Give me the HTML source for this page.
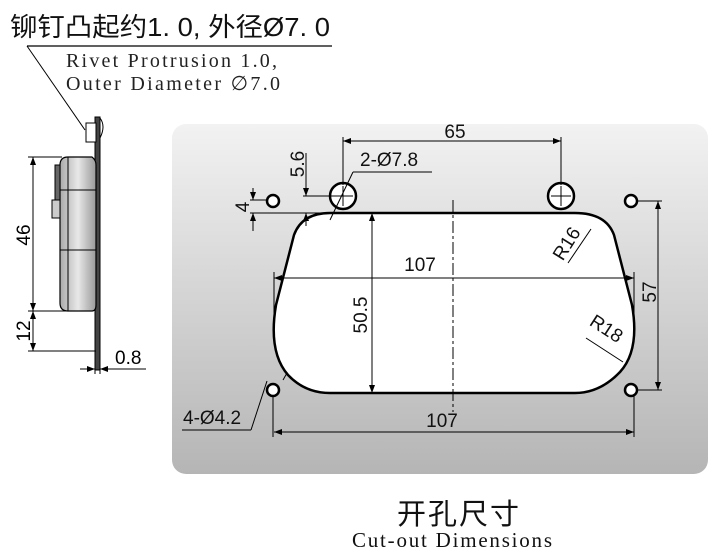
<!DOCTYPE html>
<html><head><meta charset="utf-8"><style>
html,body{margin:0;padding:0;background:#fff;width:718px;height:553px;overflow:hidden}
svg{display:block}
.s{font-family:"Liberation Sans","Noto Sans CJK SC",sans-serif}
.r{font-family:"Liberation Serif",serif}
</style></head><body>
<svg width="718" height="553" viewBox="0 0 718 553" xmlns="http://www.w3.org/2000/svg">
<defs>
<linearGradient id="g" x1="0" y1="0" x2="0" y2="1">
<stop offset="0" stop-color="#f2f2f2"/><stop offset="1" stop-color="#b5b5b5"/></linearGradient>
<linearGradient id="b" x1="0" y1="0" x2="1" y2="0">
<stop offset="0" stop-color="#aaa"/><stop offset="0.5" stop-color="#e8e8e8"/><stop offset="1" stop-color="#999"/></linearGradient>
<marker id="a" markerWidth="8" markerHeight="6" refX="8" refY="3" orient="auto-start-reverse" markerUnits="userSpaceOnUse"><path d="M0,0 L8,3 L0,6z" fill="#000"/></marker>
</defs>
<!-- header -->
<text x="10" y="36" class="s" font-size="26" fill="#111" textLength="320" lengthAdjust="spacingAndGlyphs">铆钉凸起约1. 0, 外径Ø7. 0</text>
<line x1="27" y1="46" x2="332" y2="46" stroke="#000" stroke-width="1.2"/>
<line x1="27" y1="46" x2="85" y2="130" stroke="#000" stroke-width="1"/>
<text x="66" y="67" class="r" font-size="20" fill="#222" textLength="211">Rivet Protrusion 1.0,</text>
<text x="66" y="90" class="r" font-size="20" fill="#222" textLength="214">Outer Diameter ∅7.0</text>
<!-- side view -->
<rect x="95" y="117" width="5" height="253" fill="#444" stroke="#000"/>
<rect x="86" y="123" width="10" height="19" fill="#fff" stroke="#000"/>
<path d="M100,118 q6,8 0,20" fill="none" stroke="#000"/>
<path d="M68,157 L92,157 Q96,160 96,165 L96,305 Q96,311 92,311 L68,311 Q60,311 60,303 L60,165 Q60,157 68,157z" fill="url(#b)" stroke="#000" stroke-width="1.2"/>
<line x1="68" y1="157" x2="68" y2="311" stroke="#000"/>
<line x1="60" y1="190" x2="96" y2="190" stroke="#000"/>
<line x1="60" y1="250" x2="96" y2="250" stroke="#000"/>
<rect x="55" y="165" width="5" height="50" fill="#666" stroke="#000"/>
<rect x="52" y="200" width="8" height="18" fill="#ccc" stroke="#000"/>
<g stroke="#000" stroke-width="1">
<line x1="28" y1="157" x2="62" y2="157"/><line x1="28" y1="311" x2="66" y2="311"/><line x1="28" y1="351" x2="96" y2="351"/>
<line x1="33" y1="157" x2="33" y2="311" marker-start="url(#a)" marker-end="url(#a)"/>
<line x1="33" y1="311" x2="33" y2="351" marker-start="url(#a)" marker-end="url(#a)"/>
<line x1="95" y1="352" x2="95" y2="374"/><line x1="100" y1="352" x2="100" y2="374"/>
<line x1="80" y1="369" x2="95" y2="369" marker-end="url(#a)"/><line x1="116" y1="369" x2="100" y2="369" marker-end="url(#a)"/>
<line x1="100" y1="369" x2="146" y2="369"/>
</g>
<text transform="translate(30,235) rotate(-90)" text-anchor="middle" class="s" font-size="19">46</text>
<text transform="translate(30,331) rotate(-90)" text-anchor="middle" class="s" font-size="19">12</text>
<text x="115" y="364" class="s" font-size="19">0.8</text>
<!-- panel -->
<rect x="172" y="124" width="536" height="350" rx="14" fill="url(#g)"/>
<path d="M330,213 L575,213 Q606,213 614,235 L632,305 Q640,350 620,372 Q600,393 575,393 L330,393 Q305,393 288,375 Q268,352 276,305 L294,235 Q302,213 330,213 Z" fill="#fff" stroke="#000" stroke-width="2.5"/>
<g fill="#fff" stroke="#000" stroke-width="2.5">
<circle cx="343" cy="196" r="13"/><circle cx="561" cy="196" r="13"/>
<circle cx="273" cy="201" r="6"/><circle cx="631" cy="201" r="6"/>
<circle cx="273" cy="390" r="6"/><circle cx="631" cy="390" r="6"/>
</g>
<g stroke="#000" stroke-width="1" fill="none">
<line x1="333" y1="196" x2="353" y2="196"/><line x1="343" y1="186" x2="343" y2="206"/>
<line x1="551" y1="196" x2="571" y2="196"/><line x1="561" y1="186" x2="561" y2="206"/>
<line x1="453" y1="200" x2="453" y2="412" stroke-dasharray="12,3,3,3"/>
<line x1="343" y1="137" x2="343" y2="185"/><line x1="561" y1="137" x2="561" y2="185"/>
<line x1="343" y1="141" x2="561" y2="141" marker-start="url(#a)" marker-end="url(#a)"/>
<line x1="306" y1="153" x2="306" y2="196" marker-end="url(#a)"/><line x1="306" y1="226" x2="306" y2="213" marker-end="url(#a)"/>
<line x1="303" y1="196" x2="333" y2="196"/>
<line x1="253" y1="188" x2="253" y2="200" marker-end="url(#a)"/><line x1="253" y1="231" x2="253" y2="213" marker-end="url(#a)"/>
<line x1="250" y1="200" x2="267" y2="200"/><line x1="250" y1="213" x2="330" y2="213"/>
<line x1="330" y1="220" x2="353" y2="172"/><line x1="353" y1="172" x2="432" y2="172"/>
<line x1="274" y1="272" x2="274" y2="330"/><line x1="634" y1="272" x2="634" y2="330"/>
<line x1="274" y1="278" x2="634" y2="278" marker-start="url(#a)" marker-end="url(#a)"/>
<line x1="372" y1="213" x2="372" y2="393" marker-start="url(#a)" marker-end="url(#a)"/>
<line x1="637" y1="201" x2="662" y2="201"/><line x1="637" y1="390" x2="662" y2="390"/>
<line x1="658" y1="201" x2="658" y2="390" marker-start="url(#a)" marker-end="url(#a)"/>
<line x1="568" y1="263" x2="591" y2="229"/>
<line x1="586" y1="338" x2="623" y2="362"/>
<line x1="273" y1="396" x2="273" y2="437"/><line x1="634" y1="396" x2="634" y2="437"/>
<line x1="274" y1="432" x2="634" y2="432" marker-start="url(#a)" marker-end="url(#a)"/>
<line x1="267" y1="381" x2="251" y2="430"/><line x1="182" y1="430" x2="251" y2="430"/>
<line x1="283" y1="380" x2="287" y2="373"/>
</g>
<g class="s" font-size="19" fill="#111">
<text x="455" y="138" text-anchor="middle">65</text>
<text x="360" y="166">2-Ø7.8</text>
<text transform="translate(304,164) rotate(-90)" text-anchor="middle">5.6</text>
<text transform="translate(249,207) rotate(-90)" text-anchor="middle">4</text>
<text x="420" y="271" text-anchor="middle">107</text>
<text transform="translate(367,315) rotate(-90)" text-anchor="middle">50.5</text>
<text transform="translate(656,292) rotate(-90)" text-anchor="middle">57</text>
<text transform="translate(572,247) rotate(-58)" text-anchor="middle">R16</text>
<text transform="translate(603,334) rotate(33)" text-anchor="middle">R18</text>
<text x="442" y="427" text-anchor="middle">107</text>
<text x="183" y="424">4-Ø4.2</text>
</g>
<text x="458" y="524" text-anchor="middle" class="s" font-size="29" fill="#111" textLength="122">开孔尺寸</text>
<text x="352" y="547" class="r" font-size="21" fill="#111" textLength="200">Cut-out Dimensions</text>
</svg>
</body></html>
